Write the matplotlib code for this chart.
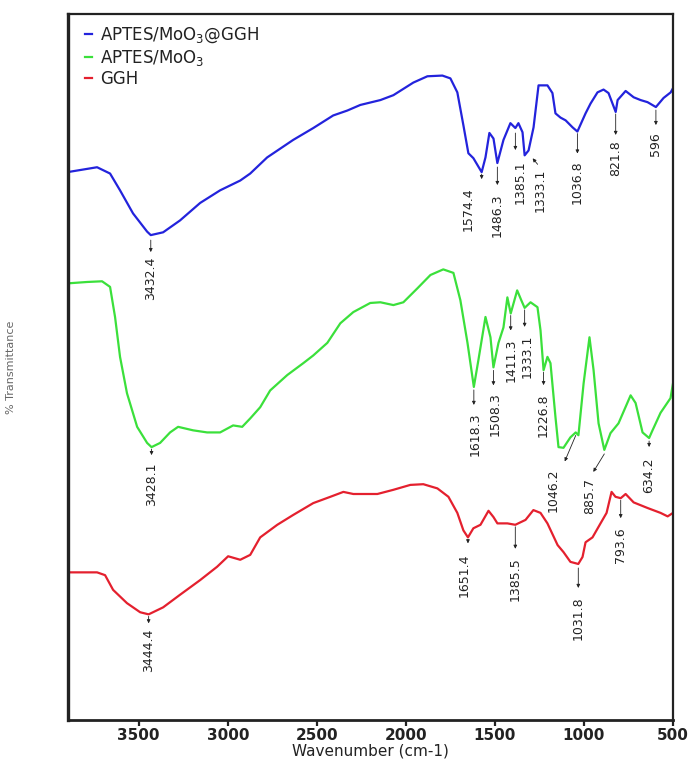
import numpy as np
import matplotlib
matplotlib.use("Agg")
import matplotlib.pyplot as plt
from matplotlib.transforms import offset_copy

# FTIR spectra (wavenumber in cm-1, transmittance in arbitrary stacked units)
blue_wn = [3900, 3734, 3661, 3605, 3532, 3453, 3432.4, 3363, 3268, 3155, 3043, 2930, 2874,
           2779, 2633, 2520, 2408, 2329, 2256, 2143, 2070, 1958, 1879, 1795, 1750, 1711,
           1677, 1649, 1621, 1574.4, 1553, 1531, 1508, 1486.3, 1452, 1413, 1385.1, 1368,
           1345, 1333.1, 1311, 1283, 1255, 1205, 1177, 1160, 1132, 1103, 1064, 1036.8,
           991, 963, 924, 890, 862, 821.8, 811, 766, 721, 682, 643, 596, 553, 513, 500]
blue_t = [78.3, 79.0, 78.1, 75.7, 72.4, 69.8, 69.3, 69.7, 71.4, 73.9, 75.7, 77.1, 78.1,
          80.4, 82.9, 84.6, 86.4, 87.1, 87.9, 88.6, 89.3, 91.1, 92.0, 92.1, 91.7, 89.7,
          85.0, 81.0, 80.3, 78.3, 80.4, 83.9, 83.1, 79.6, 82.9, 85.3, 84.6, 85.3,
          84.0, 80.7, 81.4, 84.7, 90.7, 90.7, 89.6, 86.7, 86.1, 85.7, 84.7, 84.1,
          86.7, 88.1, 89.7, 90.1, 89.6, 86.9, 88.6, 89.9, 89.0, 88.6, 88.3, 87.6, 88.9, 89.7, 90.3]

green_wn = [3900, 3790, 3706, 3661, 3633, 3605, 3566, 3509, 3453, 3428.1, 3380, 3324, 3279,
            3195, 3116, 3043, 2970, 2919, 2874, 2818, 2762, 2666, 2576, 2520, 2441, 2368,
            2295, 2200, 2143, 2070, 2014, 1935, 1862, 1790, 1733, 1694, 1654, 1618.3, 1593,
            1553, 1525, 1508.3, 1480, 1452, 1430, 1411.3, 1375, 1352, 1333.1, 1300, 1261,
            1244, 1226.8, 1205, 1188, 1160, 1143, 1115, 1076, 1046.2, 1031, 1002, 969, 946,
            918, 885.7, 851, 806, 738, 710, 671, 634.2, 615, 570, 514, 500]
green_t = [62.4, 62.6, 62.7, 61.9, 57.6, 51.9, 46.7, 41.9, 39.6, 39.0, 39.6, 41.1, 41.9,
           41.4, 41.1, 41.1, 42.1, 41.9, 43.1, 44.7, 47.1, 49.3, 51.0, 52.1, 53.9, 56.7,
           58.3, 59.6, 59.7, 59.3, 59.7, 61.7, 63.6, 64.4, 63.9, 60.0, 53.9, 47.6, 51.4,
           57.6, 54.7, 50.4, 53.9, 56.1, 60.4, 58.1, 61.4, 60.0, 58.9, 59.7, 59.0,
           55.7, 50.0, 51.9, 51.0, 43.3, 39.0, 38.9, 40.4, 41.1, 40.7, 48.1, 54.7, 50.0,
           42.4, 38.6, 41.0, 42.4, 46.4, 45.3, 41.1, 40.3, 41.4, 43.9, 46.0, 48.1]

red_wn = [3900, 3734, 3689, 3644, 3566, 3492, 3444.4, 3363, 3268, 3155, 3060, 2998, 2930,
          2874, 2818, 2722, 2633, 2520, 2424, 2351, 2295, 2160, 2070, 1975, 1902, 1823,
          1761, 1711, 1677, 1651.4, 1621, 1581, 1536, 1508, 1486, 1430, 1385.5, 1328, 1284,
          1244, 1205, 1148, 1115, 1076, 1031.8, 1008, 991, 952, 907, 873, 845, 823, 793.6,
          766, 721, 643, 570, 530, 500]
red_t = [21.1, 21.1, 20.7, 18.6, 16.7, 15.4, 15.1, 16.1, 17.9, 20.0, 21.9, 23.4, 22.9,
         23.6, 26.1, 27.9, 29.3, 31.0, 31.9, 32.6, 32.3, 32.3, 32.9, 33.6, 33.7, 33.1,
         31.9, 29.6, 27.1, 26.1, 27.4, 27.9, 29.9, 29.0, 28.1, 28.1, 27.9, 28.6, 30.0,
         29.6, 28.1, 25.0, 24.0, 22.6, 22.3, 23.3, 25.4, 26.1, 28.1, 29.6, 32.6, 31.9, 31.7,
         32.3, 31.1, 30.3, 29.6, 29.1, 29.6]

labels = ["APTES/MoO$_3$@GGH", "APTES/MoO$_3$", "GGH"]
colors = ["#2323dc", "#3be03b", "#e4202e"]

# peak labels: (wavenumber, text dx, arrow start dy, arrow end dy, text dy, arrow end dx) in px
blue_peaks = [(3432.4, 0, 5, 17, 22, 0), (1574.4, -13, 2, 7, 15, 0), (1486.3, 0, 4, 22, 30, 0),
              (1385.1, 5, 5, 22, 32, 0), (1333.1, 16, 9, 3, 13, 0), (1036.8, 0, 2, 22, 29, 0),
              (821.8, 0, 2, 23, 28, 0), (596, 0, 3, 18, 25, 0)]
green_peaks = [(3428.1, 0, 2, 8, 15, 0), (1618.3, 1, 3, 18, 26, 0), (1508.3, 2, 3, 18, 25, 0),
               (1411.3, 0, 2, 17, 25, 0), (1333.1, 3, 2, 19, 27, 0), (1226.8, 0, 2, 15, 23, 0),
               (1046.2, -23, 3, 29, 36, -11), (885.7, -15, 4, 22, 28, -11),
               (634.2, 0, 3, 9, 19, 0)]
red_peaks = [(3444.4, 0, 2, 9, 14, 0), (1651.4, -4, 2, 6, 16, 0), (1385.5, 0, 2, 24, 32, 0),
             (1031.8, 0, 4, 24, 32, 0), (793.6, 0, 2, 20, 29, 0)]

PT = 0.72  # points per pixel at dpi 100

fig = plt.figure(figsize=(6.89, 7.60), dpi=100)
ax = fig.add_axes([67.5 / 689, 40 / 760, 605.5 / 689, 706 / 760])

series = [(blue_wn, blue_t, blue_peaks), (green_wn, green_t, green_peaks), (red_wn, red_t, red_peaks)]
for (wn, t, peaks), lab, c in zip(series, labels, colors):
    ax.plot(wn, t, color=c, lw=1.6, label=lab)
    for p, tdx, d0, d1, dt, adx in peaks:
        y = t[wn.index(p)]
        if d1 < d0:
            # little slanted pointer coming from the label side
            start = offset_copy(ax.transData, fig=fig, x=tdx * PT - 3 * PT, y=-d0 * PT, units="points")
            end = offset_copy(ax.transData, fig=fig, x=tdx * PT - 8 * PT, y=-d1 * PT, units="points")
        else:
            start = offset_copy(ax.transData, fig=fig, x=0, y=-d0 * PT, units="points")
            end = offset_copy(ax.transData, fig=fig, x=adx * PT, y=-d1 * PT, units="points")
        ax.annotate("", xy=(p, y), xycoords=end, xytext=(p, y), textcoords=start,
                    arrowprops=dict(arrowstyle="-|>", lw=0.6, color="#222222",
                                    mutation_scale=5, shrinkA=0, shrinkB=0))
        ax.annotate(f"{p:g}", xy=(p, y), xytext=(tdx * PT, -dt * PT), textcoords="offset points",
                    rotation=90, ha="center", va="top", fontsize=9, color="#222222")

ax.set_xlim(3900, 500)
ax.set_ylim(0, 100.9)
ax.set_xticks([3500, 3000, 2500, 2000, 1500, 1000, 500])
ax.set_yticks([])
ax.tick_params(axis="x", direction="out", length=4, width=1.6, pad=2, labelsize=11, colors="#222222")
for lab in ax.get_xticklabels():
    lab.set_fontweight("bold")

for side, lw in [("left", 2.4), ("bottom", 2.0), ("top", 1.6), ("right", 1.6)]:
    ax.spines[side].set_linewidth(lw)
    ax.spines[side].set_color("#222222")

ax.set_xlabel("Wavenumber (cm-1)", fontsize=11, color="#222222", labelpad=0)
ax.set_ylabel("% Transmittance", fontsize=8, color="#666666")
ax.yaxis.set_label_coords(-0.085, 0.5)

ax.legend(loc="upper left", bbox_to_anchor=(0.01, 1.0), frameon=False, fontsize=12,
          handlelength=0.4, handletextpad=0.5, labelspacing=0.15, borderpad=0.2,
          labelcolor="#222222")

fig.savefig("out.png", dpi=100)
